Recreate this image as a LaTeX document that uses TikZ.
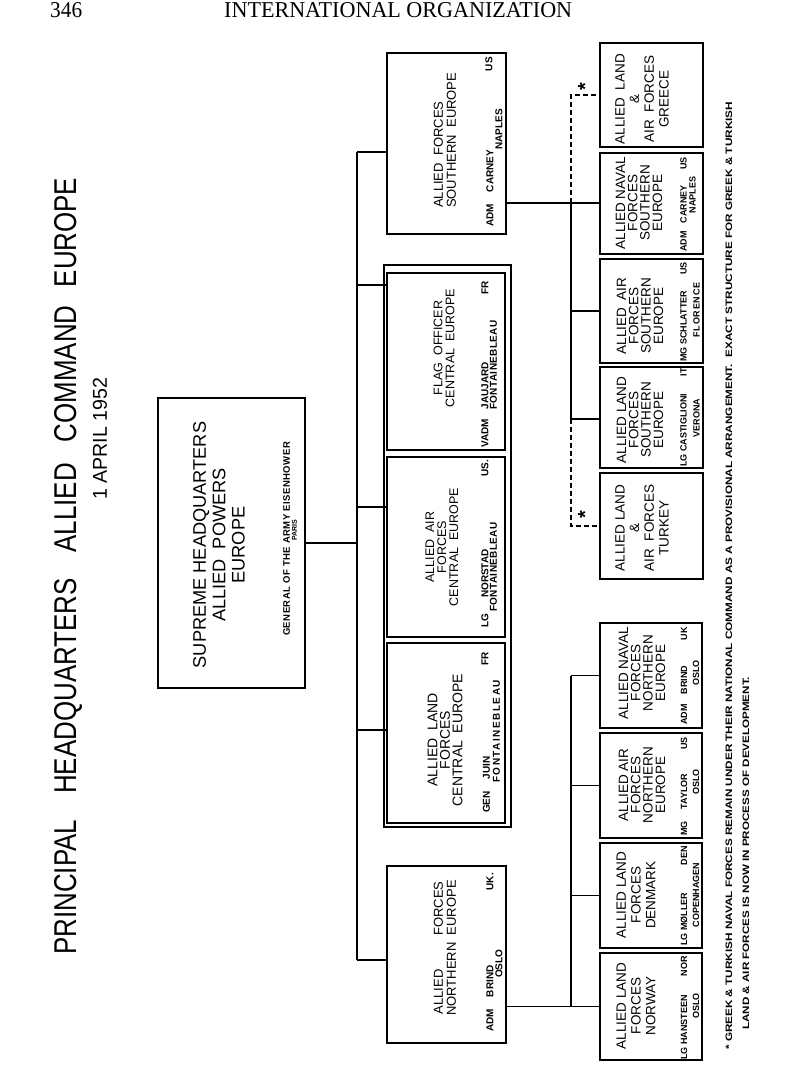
\documentclass[tikz,border=0pt]{standalone}
\usepackage{fontspec}
\usepackage{graphicx}
\setmainfont{Liberation Serif}
\setsansfont{Liberation Sans}
\newcommand\inff{\sffamily\bfseries\fontsize{9}{9}\selectfont}
\newcommand\inffc{\sffamily\bfseries\fontsize{10}{10}\selectfont}
\newcommand\bx[5]{\node[box, minimum width={(#4-#2)*1pt}, minimum height={(#5-#3)*1pt}] (#1) at ({(#2+#4)/2},{(#3+#5)/2}) {};}
\tikzset{
  box/.style={draw, line width=1.1pt, inner sep=0pt, outer sep=0pt},
  conn/.style={line width=1.2pt},
  dconn/.style={line width=1.1pt, dash pattern=on 5pt off 3pt},
  ttl/.style={rotate=90, align=center, inner sep=0pt, font=\sffamily\fontsize{12.5}{12}\selectfont},
  sttl/.style={rotate=90, align=center, inner sep=0pt, font=\sffamily\fontsize{13.5}{12.3}\selectfont},
  sttlw/.style={rotate=90, align=center, inner sep=0pt, font=\sffamily\fontsize{13.5}{14.7}\selectfont},
  inf/.style={rotate=90, inner sep=0pt, font=\inff},
  infc/.style={rotate=90, inner sep=0pt, font=\inffc},
  star/.style={rotate=90, inner sep=0pt, font=\sffamily\bfseries\fontsize{20}{20}\selectfont},
}
\begin{document}
\begin{tikzpicture}[x=1pt,y=-1pt]
\fill[white] (0,0) rectangle (800,1065);
\useasboundingbox (0,0) rectangle (800,1065);

% header
\node[anchor=base west, inner sep=0pt] (pg) at (50,18) {\resizebox{32pt}{15pt}{346}};
\node[anchor=base west, inner sep=0pt] (jn) at (224,18) {\resizebox{348pt}{15pt}{INTERNATIONAL ORGANIZATION}};

% title
\node[rotate=90, anchor=west, inner sep=0pt] (title) at (68,955) {\resizebox{777pt}{22pt}{\sffamily PRINCIPAL\hspace{1em}HEADQUARTERS\hspace{1em}ALLIED\hspace{0.8em}COMMAND\hspace{0.7em}EUROPE}};
\node[rotate=90, anchor=west, inner sep=0pt] (date) at (100,500) {\resizebox{122pt}{14pt}{\sffamily 1 APRIL 1952}};

% boxes
\bx{shape}{158}{398}{305}{688}
\bx{afs}{387}{53}{506}{234}
\bx{cent}{384}{265}{511}{827}
\bx{foce}{387}{273}{505}{450}
\bx{aafce}{387}{457}{505}{637}
\bx{alfce}{387}{643}{505}{823}
\bx{afn}{387}{866}{506}{1043}
\bx{gre}{600}{43}{703}{147}
\bx{navs}{600}{153}{703}{254}
\bx{airs}{600}{259}{703}{363}
\bx{lans}{600}{367}{703}{468}
\bx{tur}{600}{473}{703}{579}
\bx{navn}{600}{623}{702}{728}
\bx{airn}{600}{733}{702}{838}
\bx{den}{600}{843}{702}{948}
\bx{nor}{600}{953}{702}{1060}

% main connectors
\coordinate (mb1) at (357,152);
\coordinate (mb2) at (357,960);
\coordinate (j2) at (357,285);
\coordinate (j3) at (357,507);
\coordinate (j4) at (357,730);
\draw[conn] (shape.east) -- (shape.east -| mb1);
\draw[conn] (mb1) -- (mb2);
\draw[conn] (mb1) -- (mb1 -| afs.west);
\draw[conn] (j2) -- (j2 -| foce.west);
\draw[conn] (j3) -- (j3 -| aafce.west);
\draw[conn] (j4) -- (j4 -| alfce.west);
\draw[conn] (mb2) -- (mb2 -| afn.west);

% southern sub-bus
\coordinate (sb1) at (571,203);
\coordinate (sb2) at (571,419);
\draw[conn] (afs.east |- sb1) -- (sb1 -| navs.west);
\draw[conn] (sb1) -- (sb2) -- (sb2 -| lans.west);
\draw[conn] (sb1 |- airs.west) -- (airs.west);
\draw[dconn] (sb1) -- (sb1 |- gre.west) -- (gre.west);
\draw[dconn] (sb2) -- (sb2 |- tur.west) -- (tur.west);
\node[star] (st1) at (585,87) {*};
\node[star] (st2) at (585,515) {*};

% northern sub-bus
\coordinate (nb) at (571,677);
\draw[conn] (afn.east |- nor.west) -- (nor.west);
\draw[conn] (nb |- navn.west) -- (navn.west);
\draw[conn] (nb |- navn.west) -- (nb |- nor.west);
\draw[conn] (nb |- airn.west) -- (airn.west);
\draw[conn] (nb |- den.west) -- (den.west);

% SHAPE
\node[rotate=90, align=center, inner sep=0pt, font=\sffamily\fontsize{18.2}{19.3}\selectfont] (shapet) at (219,545) {SUPREME HEADQUARTERS\\ALLIED\ \ POWERS\\EUROPE};
\node[inf, font=\sffamily\bfseries\fontsize{9.5}{9.5}\selectfont\addfontfeature{LetterSpace=5}] (shapei) at (286.5,539) {GENERAL OF THE ARMY EISENHOWER};
\node[inf, font=\sffamily\bfseries\fontsize{7}{7}\selectfont] (shapep) at (294.5,530) {PARIS};

% AFSOUTH
\node[ttl, font=\sffamily\fontsize{13}{13}\selectfont, align=left, anchor=west] (afst) at (445,208) {ALLIED\ \ FORCES\\SOUTHERN\ \ EUROPE};
\node[infc, anchor=west] (afsi) at (490,227) {ADM\hspace{12pt}CARNEY};
\node[infc, anchor=west] (afsp) at (499,150) {NAPLES};
\node[infc, anchor=east] (afsn) at (489,57) {US};

% Flag officer
\node[ttl] (focet) at (444,348) {FLAG\ \ OFFICER\\CENTRAL\ \ EUROPE};
\node[infc, anchor=west] (focei) at (485,448) {VADM\hspace{10pt}JAUJARD};
\node[infc, anchor=west] (focep) at (493.5,410) {\addfontfeature{LetterSpace=4}FONTAINEBLEAU};
\node[infc, anchor=east] (focen) at (485,281) {FR};

% Air central
\node[ttl] (aafcet) at (442,547) {ALLIED\ \ AIR\\FORCES\\CENTRAL\ \ EUROPE};
\node[infc, anchor=west] (aafcei) at (485,628) {LG\hspace{16pt}NORSTAD};
\node[infc, anchor=west] (aafcep) at (493.5,612) {\addfontfeature{LetterSpace=4}FONTAINEBLEAU};
\node[infc, anchor=east] (aafcen) at (485,460) {US.};

% Land central
\node[ttl, font=\sffamily\fontsize{14}{12.5}\selectfont] (alfcet) at (445,740) {ALLIED\ \ LAND\\FORCES\\CENTRAL\ \ EUROPE};
\node[infc, anchor=west] (alfcei) at (486.5,813) {GEN\hspace{12pt}JUIN};
\node[infc, anchor=west] (alfcep) at (496.5,783) {\addfontfeature{LetterSpace=15}FONTAINEBLEAU};
\node[infc, anchor=east] (alfcen) at (485,652) {FR};

% AFNORTH
\node[ttl, font=\sffamily\fontsize{13}{13}\selectfont] (afnt) at (445,948) {ALLIED\hspace{2.6em}FORCES\\NORTHERN\ \ EUROPE};
\node[infc, anchor=west] (afni) at (490,1032) {ADM\hspace{12pt}BRIND};
\node[infc, anchor=west] (afnp) at (499,978) {OSLO};
\node[infc, anchor=east] (afnn) at (490,873) {UK.};

% Southern sub-commands
\node[sttlw] (gret) at (642,99) {ALLIED\ \ LAND\\\&\\AIR\ \ FORCES\\GREECE};

\node[sttl] (navst) at (639,203) {ALLIED NAVAL\\FORCES\\SOUTHERN\\EUROPE};
\node[inf, anchor=west] (navsi) at (683.5,252) {ADM\hspace{8pt}CARNEY};
\node[inf, anchor=east] (navsn) at (683.5,157) {US};
\node[inf] (navsp) at (692.5,195) {NAPLES};

\node[sttl] (airst) at (640,316) {ALLIED\ \ AIR\\FORCES\\SOUTHERN\\EUROPE};
\node[inf, anchor=west] (airsi) at (683.5,362) {MG SCHLATTER};
\node[inf, anchor=east] (airsn) at (683.5,262) {US};
\node[inf] (airsp) at (696.5,310) {\addfontfeature{LetterSpace=8}FLORENCE};

\node[sttl] (lanst) at (640,420) {ALLIED LAND\\FORCES\\SOUTHERN\\EUROPE};
\node[inf, anchor=west] (lansi) at (683.5,467) {LG CASTIGLIONI};
\node[inf, anchor=east] (lansn) at (683.5,368) {IT};
\node[inf] (lansp) at (696.5,418) {VERONA};

\node[sttlw] (turt) at (642,528) {ALLIED LAND\\\&\\AIR\ \ FORCES\\TURKEY};

% Northern sub-commands
\node[sttl] (navnt) at (642,673) {ALLIED NAVAL\\FORCES\\NORTHERN\\EUROPE};
\node[inf, anchor=west] (navni) at (684,725) {ADM\hspace{10pt}BRIND};
\node[inf, anchor=east] (navnn) at (684,627) {UK};
\node[inf] (navnp) at (696,673) {OSLO};

\node[sttl] (airnt) at (642,785) {ALLIED AIR\\FORCES\\NORTHERN\\EUROPE};
\node[inf, anchor=west] (airni) at (684,836) {MG\hspace{12pt}TAYLOR};
\node[inf, anchor=east] (airnn) at (684,737) {US};
\node[inf] (airnp) at (696,782) {OSLO};

\node[sttlw] (dent) at (636,895) {ALLIED LAND\\FORCES\\DENMARK};
\node[inf, anchor=west] (deni) at (684,946) {LG MØLLER};
\node[inf, anchor=east] (denn) at (684,846) {DEN};
\node[inf] (denp) at (696,895) {COPENHAGEN};

\node[sttlw] (nort) at (636,1006) {ALLIED LAND\\FORCES\\NORWAY};
\node[inf, anchor=west] (nori) at (684,1060) {LG HANSTEEN};
\node[inf, anchor=east] (norn) at (684,956) {NOR};
\node[inf] (norp) at (696,1006) {OSLO};

% footnote
\node[rotate=90, anchor=west, inner sep=0pt] (fn1) at (729,1050) {\resizebox{948pt}{6.5pt}{\inff * GREEK \& TURKISH NAVAL FORCES REMAIN UNDER THEIR NATIONAL COMMAND AS A PROVISIONAL ARRANGEMENT.\ \ EXACT STRUCTURE FOR GREEK \& TURKISH}};
\node[rotate=90, anchor=west, inner sep=0pt] (fn2) at (746,1030) {\resizebox{353pt}{6.5pt}{\inff LAND \& AIR FORCES IS NOW IN PROCESS OF DEVELOPMENT.}};
\end{tikzpicture}
\end{document}
